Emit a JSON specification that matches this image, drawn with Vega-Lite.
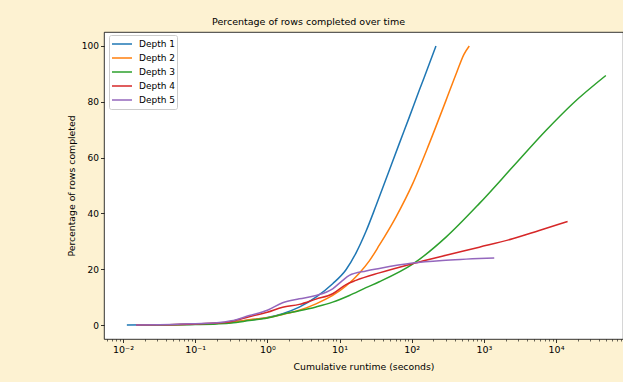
{
  "$schema": "https://vega.github.io/schema/vega-lite/v6.json",
  "width": 519,
  "height": 307,
  "autosize": {"type": "none"},
  "padding": {"left": 104, "top": 32, "right": 0, "bottom": 43},
  "background": "#fdf2d2",
  "title": {"text": "Percentage of rows completed over time", "fontSize": 9.5, "font": "DejaVu Sans", "fontWeight": "normal", "color": "#000", "anchor": "middle", "dx": -55, "dy": 9, "offset": 7, "baseline": "alphabetic"},
  "data": {"values": [
    {"d": "Depth 1", "t": 0.01132, "p": 0},
    {"d": "Depth 1", "t": 0.0316, "p": 0.1},
    {"d": "Depth 1", "t": 0.1, "p": 0.3},
    {"d": "Depth 1", "t": 0.2, "p": 0.6},
    {"d": "Depth 1", "t": 0.316, "p": 1.0},
    {"d": "Depth 1", "t": 0.562, "p": 1.8},
    {"d": "Depth 1", "t": 1, "p": 2.7},
    {"d": "Depth 1", "t": 1.63, "p": 4.1},
    {"d": "Depth 1", "t": 2.77, "p": 6.4},
    {"d": "Depth 1", "t": 4.72, "p": 10.0},
    {"d": "Depth 1", "t": 8.04, "p": 14.8},
    {"d": "Depth 1", "t": 12.3, "p": 19.8},
    {"d": "Depth 1", "t": 16.9, "p": 25.8},
    {"d": "Depth 1", "t": 23.3, "p": 33.6},
    {"d": "Depth 1", "t": 32.1, "p": 42.8},
    {"d": "Depth 1", "t": 49.0, "p": 55.5},
    {"d": "Depth 1", "t": 67.3, "p": 65},
    {"d": "Depth 1", "t": 92.7, "p": 74.5},
    {"d": "Depth 1", "t": 127, "p": 84},
    {"d": "Depth 1", "t": 175, "p": 93.5},
    {"d": "Depth 1", "t": 217, "p": 100},
    {"d": "Depth 2", "t": 0.01514, "p": 0},
    {"d": "Depth 2", "t": 0.0316, "p": 0.1},
    {"d": "Depth 2", "t": 0.1, "p": 0.3},
    {"d": "Depth 2", "t": 0.2, "p": 0.6},
    {"d": "Depth 2", "t": 0.316, "p": 0.9},
    {"d": "Depth 2", "t": 0.562, "p": 1.9},
    {"d": "Depth 2", "t": 1, "p": 2.6},
    {"d": "Depth 2", "t": 1.63, "p": 3.8},
    {"d": "Depth 2", "t": 2.77, "p": 5.3},
    {"d": "Depth 2", "t": 4.72, "p": 7.6},
    {"d": "Depth 2", "t": 8.04, "p": 10.6},
    {"d": "Depth 2", "t": 12.3, "p": 14.0},
    {"d": "Depth 2", "t": 18.8, "p": 18.6},
    {"d": "Depth 2", "t": 25.9, "p": 23.0},
    {"d": "Depth 2", "t": 35.6, "p": 28.6},
    {"d": "Depth 2", "t": 60.5, "p": 38.7},
    {"d": "Depth 2", "t": 103, "p": 50.6},
    {"d": "Depth 2", "t": 175, "p": 65},
    {"d": "Depth 2", "t": 299, "p": 80.5},
    {"d": "Depth 2", "t": 420, "p": 90.5},
    {"d": "Depth 2", "t": 530, "p": 97.0},
    {"d": "Depth 2", "t": 628, "p": 100},
    {"d": "Depth 3", "t": 0.01514, "p": 0},
    {"d": "Depth 3", "t": 0.0316, "p": 0.05},
    {"d": "Depth 3", "t": 0.1, "p": 0.2},
    {"d": "Depth 3", "t": 0.2, "p": 0.4},
    {"d": "Depth 3", "t": 0.316, "p": 0.7},
    {"d": "Depth 3", "t": 0.562, "p": 1.6},
    {"d": "Depth 3", "t": 1, "p": 2.5},
    {"d": "Depth 3", "t": 1.63, "p": 3.9},
    {"d": "Depth 3", "t": 2.77, "p": 5.1},
    {"d": "Depth 3", "t": 4.72, "p": 6.5},
    {"d": "Depth 3", "t": 8.04, "p": 8.2},
    {"d": "Depth 3", "t": 13.68, "p": 10.6},
    {"d": "Depth 3", "t": 23.3, "p": 13.4},
    {"d": "Depth 3", "t": 35.6, "p": 15.5},
    {"d": "Depth 3", "t": 103, "p": 21.8},
    {"d": "Depth 3", "t": 299, "p": 31.5},
    {"d": "Depth 3", "t": 863, "p": 43.5},
    {"d": "Depth 3", "t": 2500, "p": 56.6},
    {"d": "Depth 3", "t": 7244, "p": 69.7},
    {"d": "Depth 3", "t": 16982, "p": 79.3},
    {"d": "Depth 3", "t": 48978, "p": 89.4},
    {"d": "Depth 4", "t": 0.01514, "p": 0},
    {"d": "Depth 4", "t": 0.0316, "p": 0.1},
    {"d": "Depth 4", "t": 0.1, "p": 0.4},
    {"d": "Depth 4", "t": 0.2, "p": 0.7},
    {"d": "Depth 4", "t": 0.316, "p": 1.3},
    {"d": "Depth 4", "t": 0.562, "p": 3.0},
    {"d": "Depth 4", "t": 1, "p": 4.6},
    {"d": "Depth 4", "t": 1.63, "p": 6.4},
    {"d": "Depth 4", "t": 2.77, "p": 7.4},
    {"d": "Depth 4", "t": 4.72, "p": 9.3},
    {"d": "Depth 4", "t": 8.04, "p": 11.2},
    {"d": "Depth 4", "t": 12.3, "p": 14.5},
    {"d": "Depth 4", "t": 16.9, "p": 16.0},
    {"d": "Depth 4", "t": 35.6, "p": 18.7},
    {"d": "Depth 4", "t": 103, "p": 22.0},
    {"d": "Depth 4", "t": 299, "p": 25.0},
    {"d": "Depth 4", "t": 863, "p": 27.9},
    {"d": "Depth 4", "t": 2500, "p": 30.9},
    {"d": "Depth 4", "t": 5848, "p": 33.9},
    {"d": "Depth 4", "t": 14454, "p": 37.1},
    {"d": "Depth 5", "t": 0.01514, "p": 0},
    {"d": "Depth 5", "t": 0.0316, "p": 0.1},
    {"d": "Depth 5", "t": 0.1, "p": 0.5},
    {"d": "Depth 5", "t": 0.2, "p": 0.8},
    {"d": "Depth 5", "t": 0.316, "p": 1.5},
    {"d": "Depth 5", "t": 0.562, "p": 3.4},
    {"d": "Depth 5", "t": 1, "p": 5.3},
    {"d": "Depth 5", "t": 1.63, "p": 8.0},
    {"d": "Depth 5", "t": 2.77, "p": 9.4},
    {"d": "Depth 5", "t": 4.72, "p": 10.6},
    {"d": "Depth 5", "t": 8.04, "p": 13.0},
    {"d": "Depth 5", "t": 11.07, "p": 16.0},
    {"d": "Depth 5", "t": 13.68, "p": 17.8},
    {"d": "Depth 5", "t": 23.3, "p": 19.4},
    {"d": "Depth 5", "t": 35.6, "p": 20.3},
    {"d": "Depth 5", "t": 103, "p": 22.2},
    {"d": "Depth 5", "t": 299, "p": 23.2},
    {"d": "Depth 5", "t": 1393, "p": 24.0}
  ]},
  "mark": {"type": "line", "interpolate": "monotone", "strokeWidth": 1.5, "clip": true},
  "encoding": {
    "x": {
      "field": "t", "type": "quantitative",
      "scale": {"type": "log", "domain": [0.005458, 84700], "nice": false},
      "axis": {
        "title": "Cumulative runtime (seconds)",
        "values": [0.006,0.007,0.008,0.009,0.01,0.02,0.03,0.04,0.05,0.06,0.07,0.08,0.09,0.1,0.2,0.3,0.4,0.5,0.6,0.7,0.8,0.9,1,2,3,4,5,6,7,8,9,10,20,30,40,50,60,70,80,90,100,200,300,400,500,600,700,800,900,1000,2000,3000,4000,5000,6000,7000,8000,9000,10000,20000,30000,40000,50000,60000,70000,80000],
        "labelExpr": "abs(log(datum.value)/LN10 - round(log(datum.value)/LN10)) < 1e-6 ? '10' + ({'-2':'⁻²','-1':'⁻¹','0':'⁰','1':'¹','2':'²','3':'³','4':'⁴','5':'⁵'})[''+round(log(datum.value)/LN10)] : ''",
        "tickSize": {"condition": {"test": "abs(log(datum.value)/LN10 - round(log(datum.value)/LN10)) < 1e-6", "value": 3.5}, "value": 2},
        "tickWidth": {"condition": {"test": "abs(log(datum.value)/LN10 - round(log(datum.value)/LN10)) < 1e-6", "value": 0.8}, "value": 0.6},
        "labelOverlap": false,
        "labelFlush": false,
        "labelPadding": 2,
        "labelFontSize": 9.5,
        "titlePadding": 8
      }
    },
    "y": {
      "field": "p", "type": "quantitative",
      "scale": {"domain": [-5, 105], "nice": false, "zero": false},
      "axis": {
        "title": "Percentage of rows completed",
        "values": [0, 20, 40, 60, 80, 100],
        "tickSize": 3.5,
        "tickWidth": 0.8,
        "labelPadding": 2,
        "titlePadding": 5
      }
    },
    "color": {
      "field": "d", "type": "nominal",
      "scale": {"domain": ["Depth 1", "Depth 2", "Depth 3", "Depth 4", "Depth 5"], "range": ["#1f77b4", "#ff7f0e", "#2ca02c", "#d62728", "#9467bd"]},
      "legend": {
        "title": null,
        "orient": "none",
        "legendX": 5,
        "legendY": 3,
        "symbolType": "stroke",
        "symbolStrokeWidth": 1.5,
        "symbolSize": 400,
        "labelFontSize": 9,
        "labelColor": "#000",
        "labelFont": "DejaVu Sans",
        "labelOffset": 6,
        "clipHeight": 14,
        "fillColor": "rgba(255,255,255,0.8)",
        "strokeColor": "#cccccc",
        "cornerRadius": 2,
        "padding": 2,
        "rowPadding": 0
      }
    }
  },
  "config": {
    "font": "DejaVu Sans",
    "view": {"fill": "white", "stroke": "#000", "strokeWidth": 0.8},
    "axis": {
      "domain": false,
      "grid": false,
      "labelFont": "DejaVu Sans",
      "labelFontSize": 9,
      "labelColor": "#000",
      "tickColor": "#000",
      "titleFont": "DejaVu Sans",
      "titleFontSize": 9.3,
      "titleFontWeight": "normal",
      "titleColor": "#000"
    }
  }
}
